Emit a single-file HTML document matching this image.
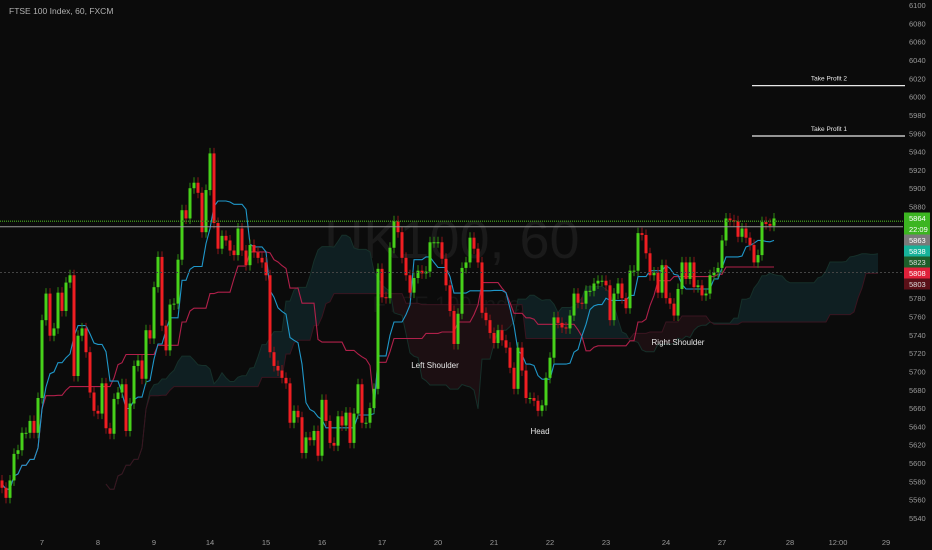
<!DOCTYPE html>
<html><head><meta charset="utf-8"><style>
html,body{margin:0;padding:0;background:#0b0b0b;}
svg{display:block;font-family:"Liberation Sans",sans-serif;}
</style></head><body>
<svg id="chart" width="932" height="550" viewBox="0 0 932 550">
<rect width="932" height="550" fill="#0b0b0b"/>
<text x="9" y="14" font-size="8.5" fill="#b0b0b0">FTSE 100 Index, 60, FXCM</text>
<text x="452" y="258" font-size="54" fill="#1a1a1a" text-anchor="middle">UK100, 60</text>
<text x="452" y="312" font-size="22" fill="#161616" text-anchor="middle">FTSE 100 Index</text>
<g id="cloud"></g><g id="lines"></g><g id="candles"></g><g id="overlay"></g><g id="axis"></g>
</svg>
<script>
const closes=[5573,5562,5581,5610,5614,5633,5633,5646,5633,5671,5756,5785,5739,5747,5786,5766,5797,5805,5695,5739,5747,5721,5677,5657,5654,5687,5638,5632,5670,5677,5686,5635,5665,5706,5712,5692,5745,5736,5792,5825,5750,5723,5773,5774,5822,5876,5867,5900,5906,5895,
5852,5898,5938,5862,5834,5848,5843,5832,5827,5856,5832,5816,5838,5830,5824,5819,5805,5721,5706,5701,5693,5687,5644,5657,5650,5611,5628,5625,5635,5608,5669,5646,5622,5619,5651,5641,5655,5622,5654,5686,5644,5644,5660,5681,5812,
5781,5780,5835,5864,5852,5824,5805,5786,5802,5810,5807,5809,5841,5841,5841,5823,5794,5766,5730,5763,5813,5819,5846,5834,5819,5764,5756,5742,5731,5745,5734,5726,5704,5681,5726,5701,5671,5671,5668,5657,5663,5693,5715,5759,5753,5748,5747,5761,5785,
5775,5774,5788,5788,5796,5799,5799,5794,5756,5785,5796,5780,5769,5810,5810,5851,5849,5829,5805,5808,5786,5816,5780,5774,5761,5790,5819,5801,5819,5792,5794,5783,5785,5805,5808,5813,5843,5867,5865,5864,5847,5856,5846,5838,5819,5827,5863,5861,5859,5867];
const priceTicks=[6100,6080,6060,6040,6020,6000,5980,5960,5940,5920,5900,5880,5860,5840,5820,5800,5780,5760,5740,5720,5700,5680,5660,5640,5620,5600,5580,5560,5540];
const dateLabels=["7","8","9","14","15","16","17","20","21","22","23","24","27","28","12:00","29"];
const dateIndex=[10,24,38,52,66,80,95,109,123,137,151,166,180,197,209,221];
const takeProfits=[6012,5957];
const tpNames=["Take Profit 2","Take Profit 1"];
const NS="http://www.w3.org/2000/svg";
const Y=p=>5+(6100-p)*0.9161;
const X=i=>2+i*4;
function mk(t,a,parent){const e=document.createElementNS(NS,t);for(const k in a)e.setAttribute(k,a[k]);parent.appendChild(e);return e;}
const gC=document.getElementById('candles'),gL=document.getElementById('lines'),gK=document.getElementById('cloud'),gO=document.getElementById('overlay'),gA=document.getElementById('axis');
const opens=closes.map((c,i)=>i?closes[i-1]:c+8);
const hi=closes.map((c,i)=>Math.max(c,opens[i])),lo=closes.map((c,i)=>Math.min(c,opens[i]));
// horizontal reference lines
let l=mk('line',{x1:0,x2:903,y1:Y(5864),y2:Y(5864),stroke:'#3a8a1a','stroke-width':1.5,'stroke-dasharray':'1 1'},gO);

l=mk('line',{x1:0,x2:903,y1:Y(5858),y2:Y(5858),stroke:'#9a9a9a','stroke-width':1},gO);

l=mk('line',{x1:0,x2:903,y1:Y(5808),y2:Y(5808),stroke:'#444','stroke-width':1,'stroke-dasharray':'2 2'},gO);

// ichimoku
function mid(i,n){let h=-1e9,lw=1e9;for(let k=Math.max(0,i-n+1);k<=i;k++){h=Math.max(h,hi[k]+4);lw=Math.min(lw,lo[k]-4);}return (h+lw)/2;}
const ten=closes.map((c,i)=>mid(i,9)),kij=closes.map((c,i)=>mid(i,26));
const spanA=closes.map((c,i)=>(ten[i]+kij[i])/2),spanB=closes.map((c,i)=>mid(i,52));
function poly(arr,off){return arr.map((v,i)=>X(i+off).toFixed(1)+','+Y(v).toFixed(1));}
// cloud segments
for(let i=0;i<closes.length-1;i++){
  const a1=spanA[i],a2=spanA[i+1],b1=spanB[i],b2=spanB[i+1];
  const c=mk('polygon',{points:[X(i+26)+','+Y(a1),X(i+27)+','+Y(a2),X(i+27)+','+Y(b2),X(i+26)+','+Y(b1)].join(' '),fill:(a1+a2>=b1+b2)?'#0f1f22':'#1c0f12',stroke:'none'},gK);
  
  
}
l=mk('polyline',{points:poly(spanA,26).join(' '),fill:'none',stroke:'#16302a','stroke-width':1},gK);

l=mk('polyline',{points:poly(spanB,26).join(' '),fill:'none',stroke:'#3a1520','stroke-width':1},gK);

l=mk('polyline',{points:poly(kij,0).join(' '),fill:'none',stroke:'#b0204a','stroke-width':1.1},gL);

l=mk('polyline',{points:poly(ten,0).join(' '),fill:'none',stroke:'#1f97c9','stroke-width':1.1},gL);

// candles
closes.forEach((c,i)=>{
  const o=opens[i],up=c>=o,col=up?'#47d11a':'#f01e22',x=X(i);
  const g=mk('g',{},gC);
  
  
  mk('line',{x1:x,x2:x,y1:Y(hi[i]+6),y2:Y(lo[i]-6),stroke:up?'#2f8a12':'#8a1518','stroke-width':1},g);
  const t=Y(Math.max(o,c)),b=Y(Math.min(o,c));
  mk('rect',{x:x-1.5,y:t,width:3,height:Math.max(1,b-t),fill:col},g);
});
// take profits
takeProfits.forEach((p,i)=>{
  const ln=mk('line',{x1:752,x2:905,y1:Y(p),y2:Y(p),stroke:'#e8e8e8','stroke-width':1.2},gO);
  
  
  const t=mk('text',{x:829,y:Y(p)-5,'font-size':6.5,fill:'#e8e8e8','text-anchor':'middle'},gO);t.textContent=tpNames[i];
  
  
});
[["Left Shoulder",435,368],["Head",540,434],["Right Shoulder",678,345]].forEach(a=>{
  const t=mk('text',{x:a[1],y:a[2],'font-size':8,fill:'#e6e6e6','text-anchor':'middle'},gO);t.textContent=a[0];
  
  
});
// price axis
priceTicks.forEach(p=>{
  const t=mk('text',{x:909,y:Y(p)+3,'font-size':7.5,fill:'#9a9a9a'},gA);t.textContent=p;
  
  
});
const tags=[["5864",218,'#3cb521','#fff'],["22:09",229,'#3cb521','#fff'],["5863",240,'#7a7a7a','#fff'],["5838",251,'#17b39a','#fff'],["5823",262,'#1d5e2a','#ddd'],["5808",273,'#e0203a','#fff'],["5803",284,'#5a1018','#ddd']];
tags.forEach(tg=>{
  const g=mk('g',{},gA);
  
  
  mk('rect',{x:904,y:tg[1]-5.5,width:26,height:11,fill:tg[2]},g);
  const t=mk('text',{x:909,y:tg[1]+3,'font-size':7.5,fill:tg[3]},g);t.textContent=tg[0];
});
dateLabels.forEach((d,i)=>{
  const t=mk('text',{x:X(dateIndex[i]),y:545,'font-size':7.5,fill:'#9a9a9a','text-anchor':'middle'},gA);t.textContent=d;
  
  
});
</script>
</body></html>
